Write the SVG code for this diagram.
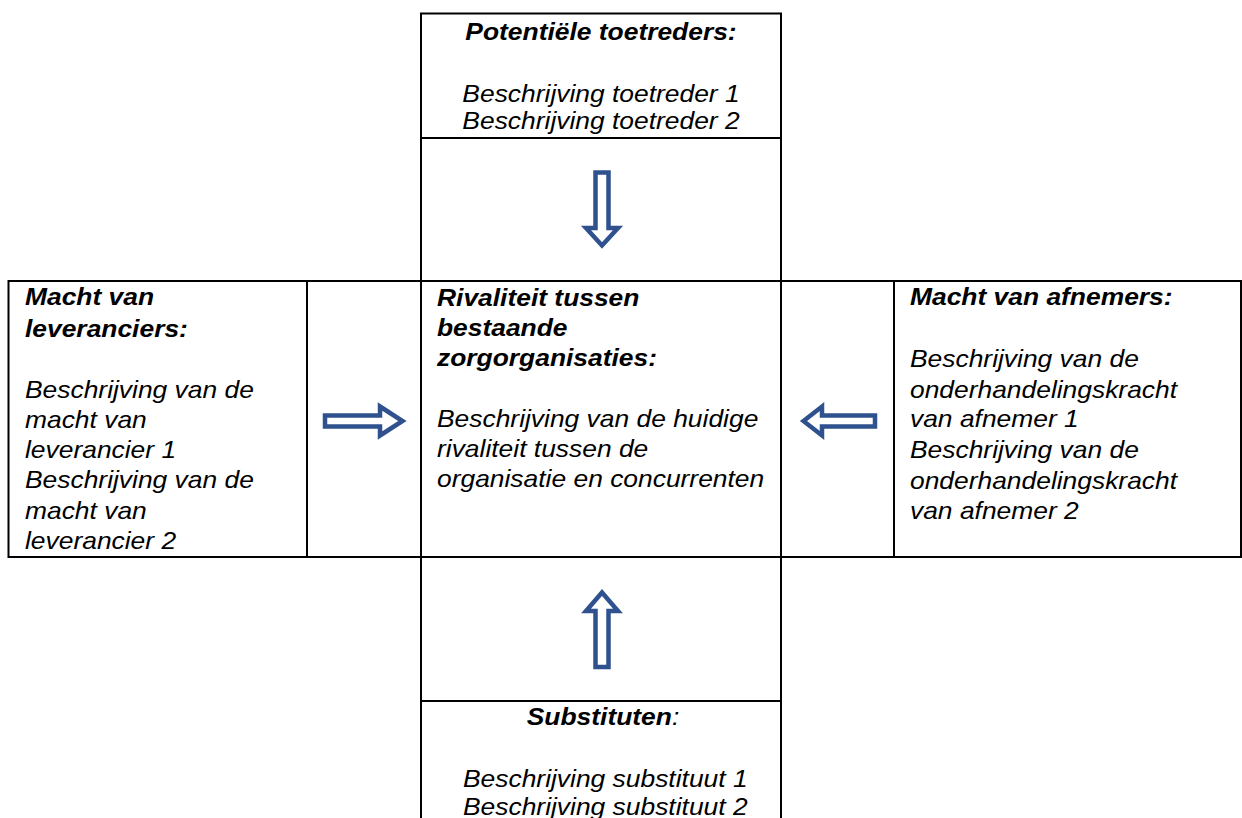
<svg xmlns="http://www.w3.org/2000/svg" width="1242" height="818" viewBox="0 0 1242 818">
<style>
.cell{fill:#fff;stroke:#000;stroke-width:2}
text{font-family:"Liberation Sans",Arial,sans-serif;font-size:23px;font-style:italic;fill:#000}
.b{font-weight:bold}
.n{font-weight:normal}
.mid{text-anchor:middle}
.arr{fill:#fff;stroke:#2F528F;stroke-width:4.5;stroke-linejoin:miter}
</style>
<rect width="1242" height="818" fill="#fff"/>
<g id="grid">
<rect class="cell" x="421" y="138" width="360" height="143"/>
<rect class="cell" x="307" y="281" width="114" height="276"/>
<rect class="cell" x="781" y="281" width="113" height="276"/>
<rect class="cell" x="421" y="557" width="360" height="144"/>
</g>
<g id="potentiele-toetreders">
<rect class="cell" x="421" y="13.5" width="360" height="124.5"/>
<g transform="matrix(1.148,0,0,1,601,0)">
<text class="b mid" x="0" y="40">Potentiële toetreders:</text>
<text class="mid" x="0" y="102">Beschrijving toetreder 1</text>
<text class="mid" x="0" y="129">Beschrijving toetreder 2</text>
</g>
</g>
<g id="macht-leveranciers">
<rect class="cell" x="8.5" y="281" width="298.5" height="276"/>
<g transform="matrix(1.148,0,0,1,25,0)">
<text class="b" x="0" y="305">Macht van</text>
<text class="b" x="0" y="337">leveranciers:</text>
<text x="0" y="398">Beschrijving van de</text>
<text x="0" y="428">macht van</text>
<text x="0" y="458">leverancier 1</text>
<text x="0" y="488">Beschrijving van de</text>
<text x="0" y="519">macht van</text>
<text x="0" y="549">leverancier 2</text>
</g>
</g>
<g id="rivaliteit">
<rect class="cell" x="421" y="281" width="360" height="276"/>
<g transform="matrix(1.148,0,0,1,437,0)">
<text class="b" x="0" y="306">Rivaliteit tussen</text>
<text class="b" x="0" y="336">bestaande</text>
<text class="b" x="0" y="366">zorgorganisaties:</text>
<text x="0" y="427">Beschrijving van de huidige</text>
<text x="0" y="457">rivaliteit tussen de</text>
<text x="0" y="487">organisatie en concurrenten</text>
</g>
</g>
<g id="macht-afnemers">
<rect class="cell" x="894" y="281" width="347" height="276"/>
<g transform="matrix(1.148,0,0,1,910,0)">
<text class="b" x="0" y="305">Macht van afnemers:</text>
<text x="0" y="367">Beschrijving van de</text>
<text x="0" y="398">onderhandelingskracht</text>
<text x="0" y="427">van afnemer 1</text>
<text x="0" y="458">Beschrijving van de</text>
<text x="0" y="489">onderhandelingskracht</text>
<text x="0" y="519">van afnemer 2</text>
</g>
</g>
<g id="substituten">
<rect class="cell" x="421" y="701" width="360" height="140"/>
<g transform="matrix(1.148,0,0,1,603,0)">
<text class="mid" x="0" y="725"><tspan class="b">Substituten</tspan><tspan class="n">:</tspan></text>
<text class="mid" x="2" y="787">Beschrijving substituut 1</text>
<text class="mid" x="2" y="815">Beschrijving substituut 2</text>
</g>
</g>
<g id="connectors">
<path class="arr" d="M595.5,172.5 H608.5 V228 H618 L602,245.5 L586,228 H595.5 Z"/>
<path class="arr" d="M602,592.5 L618,611 H608.5 V667 H595.5 V611 H586 Z"/>
<path class="arr" d="M325,415.5 H380 V406.5 L402.5,421 L380,435.5 V426.5 H325 Z"/>
<path class="arr" d="M803.5,421 L822,406.5 V415.5 H875 V426.5 H822 V435.5 Z"/>
</g>
</svg>
